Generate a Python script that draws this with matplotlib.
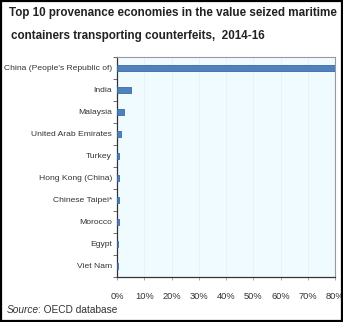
import matplotlib.pyplot as plt
import numpy as np
from matplotlib.patches import Rectangle
from matplotlib.ticker import FuncFormatter, MultipleLocator

economies = [
    "China (People's Republic of)", "India", "Malaysia", "United Arab Emirates",
    "Turkey", "Hong Kong (China)", "Chinese Taipei*", "Morocco", "Egypt", "Viet Nam",
]
share = [81.0, 5.1, 2.7, 1.5, 0.9, 0.8, 0.7, 0.6, 0.5, 0.5]

plt.rcParams["font.family"] = ["Liberation Sans", "DejaVu Sans"]

fig = plt.figure(figsize=(3.43, 3.22), dpi=100)
ax = fig.add_axes([0.341, 0.14, 0.636, 0.683])
ax.set_facecolor("#f0fbff")

y = np.arange(len(economies))
ax.barh(y, share, height=0.3, color="#4f81bd", edgecolor="#3b6aa3", linewidth=0.6, zorder=3)

ax.set_xlim(0, 80)
ax.set_ylim(len(economies) - 0.5, -0.5)
ax.xaxis.set_major_locator(MultipleLocator(10))
ax.xaxis.set_major_formatter(FuncFormatter(lambda v, _: f"{v:.0f}%"))
ax.grid(axis="x", color="#e2f1f8", linewidth=0.6, zorder=0)

ax.set_yticks(y)
ax.set_yticklabels(economies)
ax.set_yticks(np.arange(len(economies) + 1) - 0.5, minor=True)
ax.tick_params(axis="y", which="major", length=0, pad=3.5, labelsize=6.1, labelcolor="#333333")
ax.tick_params(axis="y", which="minor", length=3, width=0.6, color="#555555")
ax.tick_params(axis="x", length=2, width=0.5, color="#888888", pad=9, labelsize=6.7, labelcolor="#333333")

for side in ["left", "bottom"]:
    ax.spines[side].set_color("#333333")
    ax.spines[side].set_linewidth(0.9)
for side in ["top", "right"]:
    ax.spines[side].set_color("#999999")
    ax.spines[side].set_linewidth(0.8)

fig.text(0.026, 0.96, "Top 10 provenance economies in the value seized maritime",
         fontsize=8.4, fontweight="bold", color="#222222", va="center")
fig.text(0.032, 0.888, "containers transporting counterfeits,  2014-16",
         fontsize=8.4, fontweight="bold", color="#222222", va="center")

src = fig.text(0.02, 0.038, "Source", fontsize=7.3, style="italic", color="#333333", va="center")
ax.annotate(": OECD database", xy=(1, 0.5), xycoords=src, xytext=(-1, 0), textcoords="offset points",
            va="center", ha="left", fontsize=7.3, color="#333333", annotation_clip=False)

fig.patches.append(Rectangle((0.003, 0.003), 0.994, 0.994, transform=fig.transFigure,
                             fill=False, edgecolor="black", linewidth=1.6))

fig.savefig("out.png", dpi=100)
